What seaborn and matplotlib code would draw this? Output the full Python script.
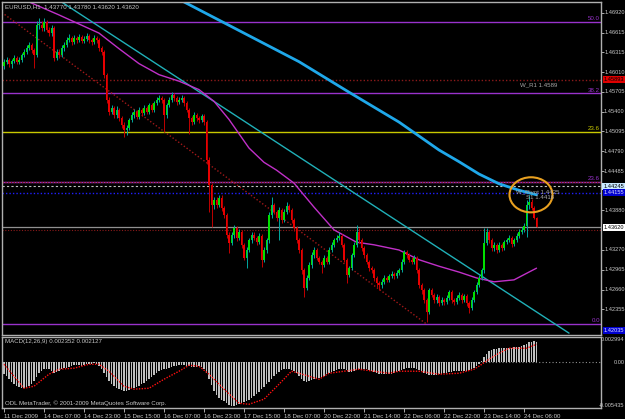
import matplotlib
matplotlib.use("Agg")
import matplotlib.pyplot as plt
import matplotlib.transforms as mtransforms
from matplotlib.patches import Ellipse
import numpy as np
import pandas as pd
import seaborn as sns

# ---- EURUSD H1 bars ----
first_open = 1.4610
closes = [
    1.4617, 1.4620, 1.4613, 1.4618, 1.4623, 1.4617, 1.4620, 1.4627, 1.4632, 1.4638,
    1.4643, 1.4635, 1.4627, 1.4674, 1.4674, 1.4669, 1.4678, 1.4666, 1.4661, 1.4669,
    1.4623, 1.4632, 1.4627, 1.4638, 1.4643, 1.4650, 1.4654, 1.4647, 1.4654, 1.4650,
    1.4655, 1.4649, 1.4652, 1.4657, 1.4650, 1.4647, 1.4654, 1.4650, 1.4638, 1.4632,
    1.4597, 1.4558, 1.4540, 1.4546, 1.4535, 1.4543, 1.4530, 1.4520, 1.4512, 1.4515,
    1.4527, 1.4535, 1.4540, 1.4532, 1.4543, 1.4538, 1.4546, 1.4540, 1.4550, 1.4543,
    1.4553, 1.4558, 1.4561, 1.4558, 1.4535, 1.4550, 1.4558, 1.4566, 1.4561, 1.4555,
    1.4558, 1.4561, 1.4553, 1.4543, 1.4530, 1.4524, 1.4535, 1.4530, 1.4527, 1.4533,
    1.4524, 1.4466, 1.4427, 1.4396, 1.4404, 1.4396, 1.4407, 1.4392, 1.4381, 1.4350,
    1.4338, 1.4350, 1.4361, 1.4346, 1.4355, 1.4335, 1.4315, 1.4327, 1.4342, 1.4350,
    1.4346, 1.4339, 1.4349, 1.4312, 1.4327, 1.4342, 1.4381, 1.4396, 1.4386, 1.4376,
    1.4389, 1.4373, 1.4386, 1.4395, 1.4389, 1.4373, 1.4361, 1.4342, 1.4327, 1.4296,
    1.4269, 1.4284, 1.4304, 1.4319, 1.4327, 1.4315, 1.4309, 1.4304, 1.4315, 1.4309,
    1.4327, 1.4335, 1.4342, 1.4346, 1.4349, 1.4335, 1.4312, 1.4289, 1.4299, 1.4319,
    1.4335, 1.4355, 1.4342, 1.4330, 1.4319, 1.4309, 1.4299, 1.4296, 1.4284, 1.4276,
    1.4273, 1.4278, 1.4284, 1.4281, 1.4287, 1.4290, 1.4287, 1.4292, 1.4296, 1.4309,
    1.4324, 1.4319, 1.4312, 1.4309, 1.4315, 1.4296, 1.4273, 1.4265, 1.4250, 1.4232,
    1.4265, 1.4258, 1.4250, 1.4255, 1.4245, 1.4250, 1.4247, 1.4253, 1.4262, 1.4250,
    1.4247, 1.4253, 1.4258, 1.4250, 1.4256, 1.4245, 1.4238, 1.4250, 1.4262, 1.4273,
    1.4284, 1.4296, 1.4338, 1.4355, 1.4342, 1.4330, 1.4335, 1.4327, 1.4335, 1.4330,
    1.4339, 1.4342, 1.4346, 1.4336, 1.4342, 1.4349, 1.4355, 1.4358, 1.4364, 1.4396,
    1.4401, 1.4392, 1.4377, 1.4362,
]
highs = [
    1.4621, 1.4624, 1.4623, 1.4621, 1.4627, 1.4626, 1.4624, 1.4630, 1.4636, 1.4642,
    1.4648, 1.4646, 1.4638, 1.4680, 1.4684, 1.4679, 1.4684, 1.4681, 1.4670, 1.4673,
    1.4672, 1.4636, 1.4636, 1.4642, 1.4647, 1.4655, 1.4659, 1.4657, 1.4658, 1.4657,
    1.4659, 1.4658, 1.4656, 1.4661, 1.4660, 1.4653, 1.4658, 1.4657, 1.4653, 1.4641,
    1.4635, 1.4600, 1.4562, 1.4551, 1.4549, 1.4548, 1.4546, 1.4533, 1.4524, 1.4519,
    1.4531, 1.4539, 1.4544, 1.4543, 1.4547, 1.4546, 1.4550, 1.4549, 1.4554, 1.4553,
    1.4557, 1.4563, 1.4566, 1.4564, 1.4561, 1.4554, 1.4562, 1.4571, 1.4569, 1.4564,
    1.4562, 1.4566, 1.4564, 1.4556, 1.4546, 1.4533, 1.4539, 1.4538, 1.4533, 1.4537,
    1.4536, 1.4527, 1.4470, 1.4430, 1.4409, 1.4408, 1.4412, 1.4411, 1.4395, 1.4384,
    1.4354, 1.4354, 1.4366, 1.4364, 1.4359, 1.4358, 1.4338, 1.4331, 1.4346, 1.4355,
    1.4354, 1.4349, 1.4353, 1.4352, 1.4331, 1.4346, 1.4385, 1.4409, 1.4399, 1.4389,
    1.4393, 1.4392, 1.4390, 1.4401, 1.4398, 1.4392, 1.4376, 1.4364, 1.4345, 1.4330,
    1.4299, 1.4288, 1.4308, 1.4324, 1.4332, 1.4330, 1.4318, 1.4312, 1.4319, 1.4318,
    1.4331, 1.4339, 1.4346, 1.4350, 1.4355, 1.4352, 1.4338, 1.4315, 1.4303, 1.4323,
    1.4339, 1.4366, 1.4361, 1.4346, 1.4333, 1.4322, 1.4312, 1.4303, 1.4299, 1.4287,
    1.4280, 1.4282, 1.4288, 1.4287, 1.4290, 1.4294, 1.4293, 1.4296, 1.4300, 1.4313,
    1.4327, 1.4327, 1.4322, 1.4316, 1.4319, 1.4318, 1.4299, 1.4276, 1.4268, 1.4253,
    1.4269, 1.4268, 1.4261, 1.4259, 1.4258, 1.4254, 1.4253, 1.4257, 1.4266, 1.4265,
    1.4253, 1.4257, 1.4262, 1.4261, 1.4260, 1.4259, 1.4248, 1.4254, 1.4266, 1.4277,
    1.4288, 1.4300, 1.4361, 1.4361, 1.4358, 1.4345, 1.4339, 1.4338, 1.4339, 1.4338,
    1.4343, 1.4346, 1.4350, 1.4349, 1.4346, 1.4353, 1.4359, 1.4362, 1.4368, 1.4404,
    1.4412, 1.4405, 1.4395, 1.4378,
]
lows = [
    1.4606, 1.4613, 1.4609, 1.4608, 1.4615, 1.4613, 1.4614, 1.4617, 1.4624, 1.4629,
    1.4635, 1.4630, 1.4607, 1.4624, 1.4668, 1.4664, 1.4665, 1.4662, 1.4656, 1.4657,
    1.4618, 1.4619, 1.4622, 1.4624, 1.4634, 1.4640, 1.4647, 1.4643, 1.4644, 1.4646,
    1.4647, 1.4645, 1.4646, 1.4649, 1.4646, 1.4643, 1.4644, 1.4646, 1.4634, 1.4627,
    1.4592, 1.4553, 1.4535, 1.4536, 1.4531, 1.4531, 1.4526, 1.4515, 1.4501, 1.4504,
    1.4512, 1.4524, 1.4531, 1.4528, 1.4529, 1.4534, 1.4535, 1.4536, 1.4537, 1.4539,
    1.4540, 1.4550, 1.4555, 1.4554, 1.4510, 1.4530, 1.4547, 1.4555, 1.4557, 1.4551,
    1.4552, 1.4555, 1.4549, 1.4539, 1.4505, 1.4519, 1.4521, 1.4526, 1.4523, 1.4524,
    1.4520, 1.4460, 1.4385, 1.4362, 1.4390, 1.4391, 1.4393, 1.4387, 1.4376, 1.4345,
    1.4322, 1.4334, 1.4346, 1.4341, 1.4342, 1.4330, 1.4312, 1.4299, 1.4324, 1.4338,
    1.4342, 1.4335, 1.4336, 1.4301, 1.4308, 1.4323, 1.4338, 1.4377, 1.4382, 1.4372,
    1.4342, 1.4369, 1.4370, 1.4383, 1.4385, 1.4369, 1.4357, 1.4338, 1.4322, 1.4290,
    1.4255, 1.4265, 1.4281, 1.4300, 1.4315, 1.4311, 1.4305, 1.4292, 1.4301, 1.4305,
    1.4306, 1.4324, 1.4332, 1.4339, 1.4343, 1.4331, 1.4308, 1.4276, 1.4285, 1.4296,
    1.4316, 1.4332, 1.4338, 1.4326, 1.4315, 1.4305, 1.4295, 1.4292, 1.4280, 1.4270,
    1.4265, 1.4269, 1.4275, 1.4277, 1.4278, 1.4284, 1.4283, 1.4284, 1.4289, 1.4293,
    1.4306, 1.4315, 1.4308, 1.4305, 1.4306, 1.4292, 1.4268, 1.4260, 1.4245, 1.4216,
    1.4229, 1.4254, 1.4246, 1.4246, 1.4241, 1.4242, 1.4243, 1.4244, 1.4250, 1.4246,
    1.4243, 1.4244, 1.4250, 1.4246, 1.4247, 1.4240, 1.4230, 1.4235, 1.4247, 1.4259,
    1.4270, 1.4281, 1.4292, 1.4335, 1.4338, 1.4326, 1.4326, 1.4323, 1.4324, 1.4326,
    1.4327, 1.4336, 1.4339, 1.4332, 1.4333, 1.4339, 1.4346, 1.4352, 1.4355, 1.4347,
    1.4390, 1.4388, 1.4374, 1.4362,
]

# moving averages, read at a few bars
ma_blue_bar = [66, 72, 86, 98, 118, 138, 158, 174, 182, 190, 198, 206, 213]
ma_blue_val = [1.4721, 1.4709, 1.4681, 1.4657, 1.4617, 1.4570, 1.4524, 1.4481,
               1.4463, 1.4444, 1.4429, 1.4419, 1.4412]
ma_mag_bar = [2, 10, 22, 38, 46, 54, 62, 70, 78, 84, 90, 98, 104, 109, 116, 124, 132, 141,
              148, 158, 166, 174, 182, 189, 196, 204, 213]
ma_mag_val = [1.4720, 1.4709, 1.4689, 1.4661, 1.4637, 1.4614, 1.4597, 1.4587, 1.4574,
              1.4556, 1.4528, 1.4484, 1.4462, 1.4450, 1.4430, 1.4393, 1.4358, 1.4339,
              1.4335, 1.4327, 1.4312, 1.4302, 1.4293, 1.4284, 1.4278, 1.4281, 1.4299]

# drawn objects
trend_bar = [23, 226]
trend_val = [1.4709, 1.4199]
fib_diag_bar = [-2, 169]
fib_diag_val = [1.4696, 1.4213]
fib_levels = [1.4213, 1.4432, 1.4568, 1.4678]
fib_names = ["0.0", "23.6", "38.2", "50.0"]
fib2_level = 1.4509
w_r1 = 1.4589
w_pivot = 1.4425
s1 = 1.4415
last_price = 1.4362

# MACD(12,26,9)
macd = [
    -0.00142, -0.00166, -0.00202, -0.00237, -0.00261, -0.00285, -0.00297, -0.00309, -0.00309, -0.00297,
    -0.00285, -0.00261, -0.00226, -0.00178, -0.00131, -0.00107, -0.00083, -0.00083, -0.00083, -0.00107,
    -0.00131, -0.00119, -0.00107, -0.00083, -0.00071, -0.00071, -0.00059, -0.00047, -0.00036, -0.00036,
    -0.00036, -0.00047, -0.00036, -0.00024, -0.00024, -0.00024, -0.00012, -0.00024, -0.00047, -0.00083,
    -0.00131, -0.00178, -0.00226, -0.00261, -0.00285, -0.00309, -0.00320, -0.00332, -0.00344, -0.00344,
    -0.00332, -0.00320, -0.00309, -0.00297, -0.00285, -0.00261, -0.00249, -0.00226, -0.00202, -0.00178,
    -0.00154, -0.00131, -0.00107, -0.00095, -0.00083, -0.00083, -0.00071, -0.00059, -0.00047, -0.00047,
    -0.00036, -0.00036, -0.00036, -0.00047, -0.00047, -0.00059, -0.00059, -0.00059, -0.00047, -0.00059,
    -0.00083, -0.00131, -0.00202, -0.00273, -0.00344, -0.00392, -0.00427, -0.00451, -0.00463, -0.00487,
    -0.00510, -0.00522, -0.00522, -0.00510, -0.00499, -0.00487, -0.00475, -0.00463, -0.00451, -0.00427,
    -0.00404, -0.00380, -0.00356, -0.00320, -0.00297, -0.00261, -0.00237, -0.00202, -0.00166, -0.00142,
    -0.00119, -0.00095, -0.00083, -0.00083, -0.00083, -0.00095, -0.00107, -0.00131, -0.00166, -0.00202,
    -0.00226, -0.00237, -0.00226, -0.00214, -0.00202, -0.00202, -0.00190, -0.00178, -0.00166, -0.00142,
    -0.00131, -0.00119, -0.00107, -0.00095, -0.00083, -0.00083, -0.00083, -0.00095, -0.00119, -0.00119,
    -0.00107, -0.00095, -0.00083, -0.00083, -0.00083, -0.00083, -0.00095, -0.00107, -0.00119, -0.00131,
    -0.00142, -0.00142, -0.00142, -0.00142, -0.00142, -0.00142, -0.00131, -0.00119, -0.00107, -0.00095,
    -0.00083, -0.00071, -0.00071, -0.00071, -0.00071, -0.00083, -0.00095, -0.00107, -0.00131, -0.00142,
    -0.00154, -0.00154, -0.00154, -0.00154, -0.00142, -0.00142, -0.00131, -0.00131, -0.00119, -0.00119,
    -0.00107, -0.00107, -0.00107, -0.00107, -0.00107, -0.00107, -0.00095, -0.00083, -0.00071, -0.00047,
    -0.00024, 0.00012, 0.00059, 0.00095, 0.00131, 0.00142, 0.00154, 0.00154, 0.00166, 0.00166,
    0.00166, 0.00166, 0.00166, 0.00166, 0.00178, 0.00178, 0.00178, 0.00190, 0.00202, 0.00214,
    0.00237, 0.00237, 0.00249, 0.002352,
]
signal_bar = [0, 8, 12, 18, 22, 28, 34, 38, 42, 48, 52, 58, 64, 70, 74, 78, 82, 88, 94, 98,
              104, 110, 115, 118, 126, 130, 142, 154, 158, 166, 174, 182, 188, 190, 194,
              198, 202, 206, 209, 213]
signal_val = [-0.00024, -0.00309, -0.00285, -0.00142, -0.00083, -0.00071, -0.00024, -0.00024,
              -0.00107, -0.00285, -0.00320, -0.00309, -0.00202, -0.00107, -0.00036, -0.00047,
              -0.00142, -0.00320, -0.00487, -0.00499, -0.00439, -0.00261, -0.00107, -0.00131,
              -0.00202, -0.00131, -0.00083, -0.00131, -0.00107, -0.00107, -0.00142, -0.00131,
              -0.00083, -0.00047, 0.00036, 0.00107, 0.00166, 0.00166, 0.00166, 0.002127]

price_ticks = [1.46920, 1.46615, 1.46315, 1.46010, 1.45705, 1.45400, 1.45095, 1.44790,
               1.44485, 1.43880, 1.43270, 1.42965, 1.42660, 1.42355]
time_ticks = [0, 16, 32, 48, 64, 80, 96, 112, 128, 144, 160, 176, 192, 208]
time_labels = ["11 Dec 2009", "14 Dec 07:00", "14 Dec 23:00", "15 Dec 15:00", "16 Dec 07:00",
               "16 Dec 23:00", "17 Dec 15:00", "18 Dec 07:00", "20 Dec 22:00", "21 Dec 14:00",
               "22 Dec 06:00", "22 Dec 22:00", "23 Dec 14:00", "24 Dec 06:00"]

FG = "#c8c8c8"
PURPLE = "#9932cc"
FS = 4.4
FS_AX = 4.1

sns.set_theme(style="dark")
plt.rcParams["font.family"] = ["Liberation Sans", "DejaVu Sans"]
plt.rcParams["axes.facecolor"] = "black"

df = pd.DataFrame({"close": closes, "high": highs, "low": lows})
df["open"] = [first_open] + closes[:-1]
df["bar"] = np.arange(len(df))
up = df["close"] >= df["open"]

fig = plt.figure(figsize=(6.25, 4.19), dpi=100, facecolor="black")
ax = fig.add_axes([2 / 625, 84 / 419, 599 / 625, 333 / 419])
ax2 = fig.add_axes([2 / 625, 11 / 419, 599 / 625, 71 / 419])
for a in (ax, ax2):
    a.set_facecolor("black")
    a.grid(False)
    for s in a.spines.values():
        s.set_color("#b0b0b0")
        s.set_linewidth(1)

# horizontal levels
for lvl in fib_levels:
    ax.axhline(lvl, color=PURPLE, lw=1, zorder=1)
ax.axhline(fib_levels[1], color="#8b1a1a", lw=1, ls=(0, (1, 1)), zorder=1)
ax.axhline(fib2_level, color="#c8c800", lw=1, zorder=1)
ax.axhline(w_r1, color="#8b1a1a", lw=1, ls=(0, (1, 1.5)), zorder=1)
ax.axhline(w_pivot, color="#c0c0c0", lw=0.8, ls=(0, (2, 2)), zorder=1)
ax.axhline(s1, color="#2020ff", lw=1, ls=(0, (1, 1.5)), zorder=1)
ax.axhline(last_price, color="#909090", lw=0.9, zorder=1)
ax.axhline(last_price - 0.0004, color="#8b1a1a", lw=0.8, ls=(0, (1, 1.5)), zorder=1)

# drawn lines and averages
sns.lineplot(x=fib_diag_bar, y=fib_diag_val, ax=ax, color="#a01818", lw=1,
             linestyle=(0, (1, 1.5)), zorder=2)
sns.lineplot(x=trend_bar, y=trend_val, ax=ax, color="#20b0b8", lw=1, zorder=2)
sns.lineplot(x=ma_mag_bar, y=ma_mag_val, ax=ax, color="#c030c8", lw=1, zorder=2)
sns.lineplot(x=ma_blue_bar, y=ma_blue_val, ax=ax, color="#1fa8ea", lw=2, zorder=2)

# candles
for mask, body_c, wick_c in ((up, "#00e000", "#00a8a0"), (~up, "#e80000", "#c00000")):
    d = df[mask]
    ax.vlines(d["bar"], d["low"], d["high"], color=wick_c, lw=0.7, zorder=3)
    lo = np.minimum(d["open"], d["close"])
    h = (d["close"] - d["open"]).abs().clip(lower=0.00005)
    ax.bar(d["bar"], h, bottom=lo, width=0.65, color=body_c, linewidth=0, zorder=4)

ax.add_patch(Ellipse((210.8, 1.4412), 17.2, 0.0054, fill=False,
                     edgecolor="#e8a020", lw=1.5, zorder=5))

# level labels
for lvl, name in zip(fib_levels, fib_names):
    ax.text(238.3, lvl + 0.0001, name, color=PURPLE, fontsize=FS, ha="right", va="bottom")
ax.text(238.3, fib2_level + 0.0001, "23.6", color="#c8c800", fontsize=FS, ha="right", va="bottom")
ax.text(214, w_r1 - 0.0008, "W_R1 1.4589", color="#a8a8a8", fontsize=FS, ha="center", va="center")
ax.text(213.5, 1.4416, "W_Pivot 1.4425", color="#a8a8a8", fontsize=FS, ha="center", va="center", zorder=6)
ax.text(214.5, 1.4408, "S1 1.4416", color="#a8a8a8", fontsize=FS, ha="center", va="center", zorder=6)

ax.set_xlim(-0.8, 238.8)
ax.set_ylim(1.41961, 1.47089)
ax.set_xticks([])
ax.set_xlabel("")
ax.set_ylabel("")
ax.yaxis.tick_right()
ax.set_yticks(price_ticks)
ax.tick_params(axis="y", colors=FG, length=2, width=0.6, right=True, left=False,
               labelright=False, labelleft=False)

# right-hand price scale, set flush with the picture's right edge
tr = mtransforms.blended_transform_factory(fig.transFigure, ax.transData)
for t in price_ticks:
    ax.text(0.9995, t, f"{t:.5f}", transform=tr, fontsize=FS_AX, color=FG,
            ha="right", va="center", clip_on=False)
boxes = [(1.45893, "#e00000", "black"), (1.44245, "#c8e8ff", "black"),
         (1.44155, "#0000d0", "#e0e0ff"), (1.43620, "white", "black"),
         (1.42035, "#0000d0", "#e0e0ff")]
for val, bg, tc in boxes:
    ax.text(0.9985, val, f"{val:.5f}", transform=tr, fontsize=FS_AX, color=tc, va="center",
            ha="right", clip_on=False, zorder=7,
            bbox=dict(facecolor=bg, edgecolor="none", pad=0.6))

# MACD panel
ax2.axhline(0, color="#909090", lw=0.8, ls=(0, (1, 2)), zorder=1)
ax2.bar(df["bar"], macd, width=0.45, color="#c0c0c0", linewidth=0, zorder=2)
sns.lineplot(x=signal_bar, y=signal_val, ax=ax2, color="#ff1010", lw=1,
             linestyle=(0, (1, 1)), zorder=3)
ax2.set_xlim(-0.8, 238.8)
ax2.set_ylim(-0.005435, 0.002994)
ax2.set_yticks([])
ax2.set_xlabel("")
ax2.set_ylabel("")
ax2.set_xticks(time_ticks)
ax2.set_xticklabels(time_labels)
ax2.tick_params(axis="x", colors=FG, length=3, width=0.6, labelsize=FS, pad=1,
                bottom=True, top=False)
for lab in ax2.get_xticklabels():
    lab.set_ha("left")
tr2 = mtransforms.blended_transform_factory(fig.transFigure, ax2.transData)
ax2.text(0.9995, 0.002994, "0.002994", transform=tr2, color=FG, fontsize=FS_AX,
         ha="right", va="top", clip_on=False)
ax2.text(0.9995, 0.0, "0.00", transform=tr2, color=FG, fontsize=FS_AX,
         ha="right", va="center", clip_on=False)
ax2.text(0.9995, -0.005435, "-0.005435", transform=tr2, color=FG, fontsize=FS_AX,
         ha="right", va="bottom", clip_on=False)

fig.text(5 / 625, 1 - 7 / 419, "EURUSD,H1  1.43770 1.43780 1.43620 1.43620",
         color=FG, fontsize=FS, va="center")
fig.text(5 / 625, 1 - 342 / 419, "MACD(12,26,9) 0.002352 0.002127",
         color=FG, fontsize=FS, va="center")
fig.text(5 / 625, 1 - 403 / 419, "ODL MetaTrader, \u00a9 2001-2009 MetaQuotes Software Corp.",
         color=FG, fontsize=FS, va="center")

fig.savefig("out.png", dpi=100, facecolor="black")
